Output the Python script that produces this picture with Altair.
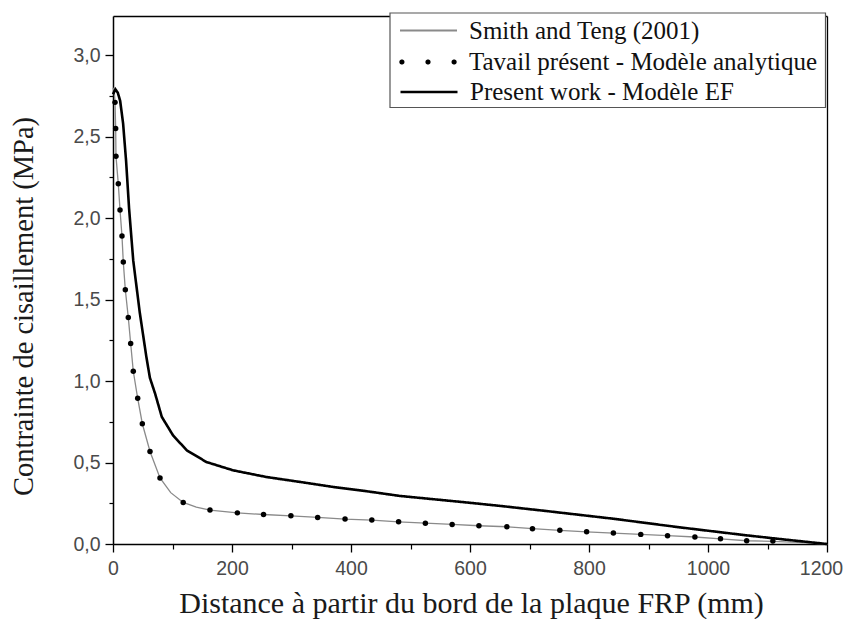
import math
import altair as alt
import pandas as pd

# ---------------- data ----------------
labels = [
    "Smith and Teng (2001)",
    "Tavail présent - Modèle analytique",
    "Present work - Modèle EF",
]

# Smith and Teng (2001) – thin grey line
smith_x = [0, 2, 3.4, 4.5, 5, 8.9, 11.8, 15.1, 17.3, 20.7, 25.7, 29.7, 34.1, 41.5, 49.3,
           62.2, 79, 97, 118, 140, 163, 209, 253, 299, 344, 390, 435, 480, 525, 570,
           615, 662, 705, 751, 796, 841, 887, 932, 978, 1021, 1065, 1109, 1150, 1200]
smith_y = [2.80, 2.78, 2.71, 2.55, 2.38, 2.21, 2.05, 1.89, 1.73, 1.56, 1.39, 1.23, 1.06, 0.894, 0.738,
           0.568, 0.405, 0.315, 0.255, 0.226, 0.208, 0.191, 0.181, 0.173, 0.163, 0.153, 0.147, 0.136, 0.128, 0.120,
           0.112, 0.106, 0.094, 0.084, 0.075, 0.067, 0.059, 0.051, 0.043, 0.032, 0.020, 0.016, 0.010, 0.0]

# Tavail présent – Modèle analytique (dots)
dots_x = [3.4, 4.5, 5, 8.9, 11.8, 15.1, 17.3, 20.7, 25.7, 29.7, 34.1, 41.5, 49.3, 62.2, 79,
          118, 163, 209, 253, 299, 344, 390, 435, 480, 525, 570, 615, 662, 705, 751,
          796, 841, 887, 932, 978, 1021, 1065, 1109]
dots_y = [2.71, 2.55, 2.38, 2.21, 2.05, 1.89, 1.73, 1.56, 1.39, 1.23, 1.06, 0.894, 0.738, 0.568, 0.405,
          0.255, 0.208, 0.191, 0.181, 0.173, 0.163, 0.153, 0.147, 0.136, 0.128, 0.120, 0.112, 0.106, 0.094, 0.084,
          0.075, 0.067, 0.059, 0.051, 0.043, 0.032, 0.020, 0.018]

# Present work – Modèle EF (thick black line)
ef_x = [0, 4, 8, 12, 17, 22, 27, 34, 45, 56, 62, 71, 82, 101, 124, 157, 202, 258, 314, 370,
        426, 482, 538, 594, 650, 729, 841, 953, 1065, 1130, 1200]
ef_y = [2.76, 2.79, 2.77, 2.72, 2.58, 2.35, 2.06, 1.74, 1.42, 1.15, 1.02, 0.92, 0.78, 0.666, 0.575,
        0.503, 0.452, 0.411, 0.381, 0.350, 0.324, 0.295, 0.275, 0.255, 0.234, 0.202, 0.155, 0.102,
        0.053, 0.027, 0.0]

x_major = [0, 200, 400, 600, 800, 1000, 1200]
x_minor = [100, 300, 500, 700, 900, 1100]
y_major = [0.0, 0.5, 1.0, 1.5, 2.0, 2.5, 3.0]
y_minor = [0.25, 0.75, 1.25, 1.75, 2.25, 2.75]
x_domain = [0, 1200]
y_domain = [0, 3.24]

x_title = "Distance à partir du bord de la plaque FRP (mm)"
y_title = "Contrainte de cisaillement (MPa)"

# ---------------- tables ----------------
df_s = pd.DataFrame({"x": smith_x, "y": smith_y, "s1": labels[0]})
df_d = pd.DataFrame({"x": dots_x, "y": dots_y, "s2": labels[1]})
df_e = pd.DataFrame({"x": ef_x, "y": ef_y, "s3": labels[2]})

xs = alt.Scale(domain=x_domain, nice=False, zero=False)
ys = alt.Scale(domain=y_domain, nice=False, zero=False)

SANS = "Liberation Sans"
SERIF = "Liberation Serif"


def dots_symbol(spacing=0.9, r=0.09, n=14):
    parts = []
    for cx in (-spacing, 0, spacing):
        pts = [(cx + r * math.cos(2 * math.pi * k / n), r * math.sin(2 * math.pi * k / n)) for k in range(n)]
        parts.append("M" + "L".join(f"{px:.4f},{py:.4f}" for px, py in pts) + "Z")
    return "".join(parts)


x_major_axis = alt.Axis(
    orient="bottom", values=x_major, format="d", grid=False,
    tickSize=8, tickWidth=1.3, tickColor="black",
    domainColor="black", domainWidth=1.5,
    labelFont=SANS, labelFontSize=19.5, labelColor="#4a4a4a", labelPadding=7,
    labelOffset={"condition": {"test": f"datum.value == {x_domain[1]}", "value": -6}, "value": 0},
    labelFlush=False, labelOverlap=False,
    title=x_title, titleFont=SERIF, titleFontSize=30, titleFontWeight="normal",
    titleColor="#1a1a1a", titleX=358, titleY=68, titleBaseline="alphabetic", titleAlign="center",
)
y_major_axis = alt.Axis(
    orient="left", values=y_major, grid=False,
    labelExpr="replace(format(datum.value, '.1f'), '.', ',')",
    tickSize=8, tickWidth=1.3, tickColor="black",
    domainColor="black", domainWidth=1.5,
    labelFont=SANS, labelFontSize=19.5, labelColor="#4a4a4a", labelPadding=5,
    labelFlush=False, labelOverlap=False,
    title=y_title, titleFont=SERIF, titleFontSize=28.5, titleFontWeight="normal",
    titleColor="#1a1a1a", titleAngle=270, titleX=-81, titleY=290,
    titleBaseline="alphabetic", titleAlign="center",
)
x_minor_axis = alt.Axis(orient="bottom", values=x_minor, labels=False, domain=False, grid=False,
                        tickSize=5, tickWidth=1.2, tickColor="black", title=None)
y_minor_axis = alt.Axis(orient="left", values=y_minor, labels=False, domain=False, grid=False,
                        tickSize=4, tickWidth=1.2, tickColor="black", title=None)
x_top_axis = alt.Axis(orient="top", labels=False, ticks=False, grid=False,
                      domainColor="black", domainWidth=1.3, title=None)
y_right_axis = alt.Axis(orient="right", labels=False, ticks=False, grid=False,
                        domainColor="black", domainWidth=1.3, title=None)

legend_common = dict(
    orient="none", title=None, padding=0, clipHeight=20,
    labelFont=SERIF, labelFontSize=25, labelColor="#111111", labelLimit=600,
)

smith = alt.Chart(df_s).mark_line(strokeWidth=1.3).encode(
    x=alt.X("x:Q", scale=xs, axis=x_major_axis),
    y=alt.Y("y:Q", scale=ys, axis=y_major_axis),
    color=alt.Color("s1:N", scale=alt.Scale(domain=[labels[0]], range=["#8a8a8a"]),
                    legend=alt.Legend(legendX=286, legendY=4.5, symbolType="stroke",
                                      symbolSize=3249, symbolStrokeWidth=1.8,
                                      labelOffset=11, **legend_common)),
)

dots = alt.Chart(df_d).mark_circle(size=30, opacity=1).encode(
    x=alt.X("x:Q", scale=xs, axis=x_minor_axis),
    y=alt.Y("y:Q", scale=ys, axis=y_minor_axis),
    fill=alt.Fill("s2:N", scale=alt.Scale(domain=[labels[1]], range=["black"]),
                  legend=alt.Legend(legendX=286, legendY=36, symbolType=dots_symbol(),
                                    symbolSize=3364, symbolFillColor="black",
                                    symbolStrokeWidth=0, symbolOpacity=1,
                                    labelOffset=12, **legend_common)),
)

present = alt.Chart(df_e).mark_line(color="black", strokeWidth=2.6).encode(
    x=alt.X("x:Q", scale=xs, axis=x_top_axis),
    y=alt.Y("y:Q", scale=ys, axis=y_right_axis),
    strokeDash=alt.StrokeDash("s3:N", scale=alt.Scale(domain=[labels[2]], range=[[1, 0]]),
                              legend=alt.Legend(legendX=286, legendY=66, symbolType="stroke",
                                                symbolSize=3249, symbolStrokeWidth=2.6,
                                                symbolStrokeColor="black",
                                                labelOffset=11, **legend_common)),
)

legend_box = alt.Chart(pd.DataFrame({"k": [0]})).mark_rect(
    fill="white", stroke="#555555", strokeWidth=1.2
).encode(x=alt.value(277), x2=alt.value(712.5), y=alt.value(-3), y2=alt.value(91.5))

chart = (
    alt.layer(smith, dots, present, legend_box)
    .resolve_axis(x="independent", y="independent")
    .properties(
        width=714, height=528,
        autosize=alt.AutoSizeParams(type="none"),
        padding={"left": 105, "top": 8, "right": 16, "bottom": 75},
        background="white",
    )
    .configure_view(stroke=None)
)

chart.save("out.html", embed_options={"renderer": "svg", "actions": False})
